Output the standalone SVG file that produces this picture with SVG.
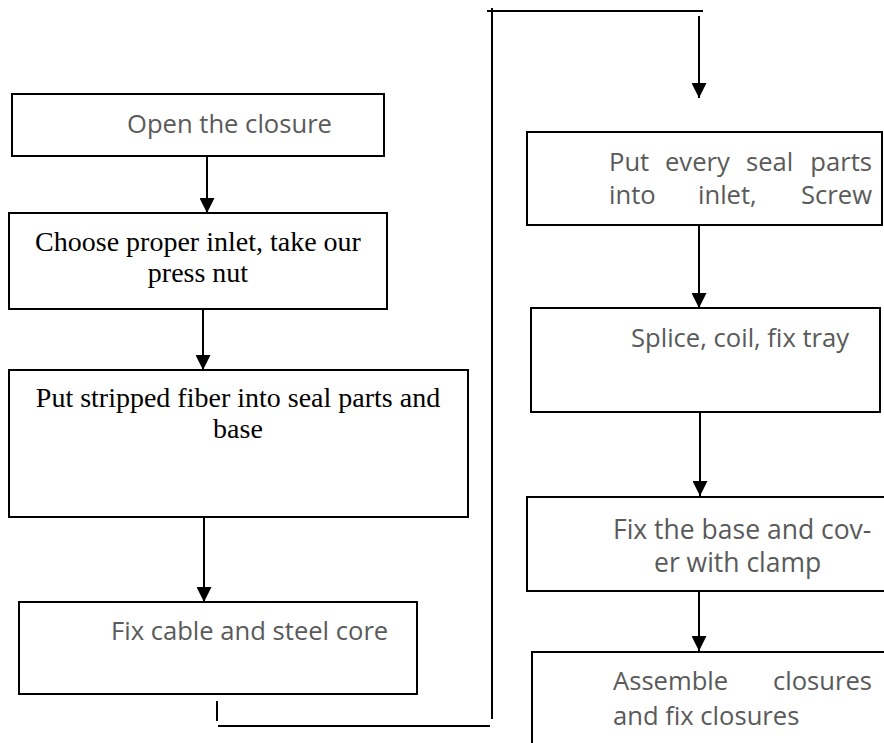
<svg xmlns="http://www.w3.org/2000/svg" width="884" height="743" viewBox="0 0 884 743">
<style>
.box{fill:#fff;stroke:#000;stroke-width:2}
.ln{fill:none;stroke:#000;stroke-width:2}
.s{font-family:"Open Sans","Liberation Sans",sans-serif;font-size:25.6px;fill:#5a5a5a}
.r{font-family:"Liberation Serif","Times New Roman",serif;font-size:28px;fill:#000;text-anchor:middle}
</style>
<defs>
<marker id="ah" viewBox="0 0 10 10" refX="10" refY="5" markerWidth="15" markerHeight="15" markerUnits="userSpaceOnUse" orient="auto">
<path d="M0,0 L10,5 L0,10 z" fill="#000"/>
</marker>
</defs>
<rect width="884" height="743" fill="#fff"/>
<g id="connectors">
<line class="ln" x1="207" y1="156" x2="207" y2="213" marker-end="url(#ah)"/>
<line class="ln" x1="203" y1="309" x2="203" y2="370" marker-end="url(#ah)"/>
<line class="ln" x1="204" y1="517" x2="204" y2="602" marker-end="url(#ah)"/>
<line class="ln" x1="217" y1="701" x2="217" y2="721"/>
<line class="ln" x1="218" y1="726" x2="490" y2="726"/>
<line class="ln" x1="492" y1="719" x2="492" y2="8"/>
<line class="ln" x1="487" y1="11" x2="703" y2="11"/>
<line class="ln" x1="699" y1="16" x2="699" y2="98" marker-end="url(#ah)"/>
<line class="ln" x1="699" y1="225" x2="699" y2="308" marker-end="url(#ah)"/>
<line class="ln" x1="700" y1="412" x2="700" y2="496" marker-end="url(#ah)"/>
<line class="ln" x1="699" y1="592" x2="699" y2="651" marker-end="url(#ah)"/>
</g>
<g id="n1">
<rect class="box" x="12" y="94" width="372" height="62"/>
<text class="s" x="127" y="133">Open the closure</text>
</g>
<g id="n2">
<rect class="box" x="9" y="213" width="378" height="96"/>
<text class="r" x="198" y="251">Choose proper inlet, take our</text>
<text class="r" x="198" y="282">press nut</text>
</g>
<g id="n3">
<rect class="box" x="9" y="370" width="459" height="147"/>
<text class="r" x="238" y="407">Put stripped fiber into seal parts and</text>
<text class="r" x="238" y="438">base</text>
</g>
<g id="n4">
<rect class="box" x="19" y="602" width="398" height="92"/>
<text class="s" x="111" y="640">Fix cable and steel core</text>
</g>
<g id="n5">
<rect class="box" x="527" y="132" width="355" height="93"/>
<text class="s" y="171"><tspan x="609">Put</tspan> <tspan x="665">every</tspan> <tspan x="746">seal</tspan> <tspan x="872" text-anchor="end">parts</tspan></text>
<text class="s" y="204"><tspan x="609">into</tspan> <tspan x="698">inlet,</tspan> <tspan x="872" text-anchor="end">Screw</tspan></text>
</g>
<g id="n6">
<rect class="box" x="531" y="308" width="349" height="104"/>
<text class="s" x="631" y="347">Splice, coil, fix tray</text>
</g>
<g id="n7">
<rect class="box" x="527" y="497" width="360" height="94"/>
<text class="s" x="613" y="539" style="font-size:26.5px">Fix the base and cov-</text>
<text class="s" x="654" y="572" style="font-size:26.5px">er with clamp</text>
</g>
<g id="n8">
<rect class="box" x="532" y="652" width="360" height="100"/>
<text class="s" y="690"><tspan x="613">Assemble</tspan> <tspan x="872" text-anchor="end">closures</tspan></text>
<text class="s" x="613" y="725">and fix closures</text>
</g>
</svg>
